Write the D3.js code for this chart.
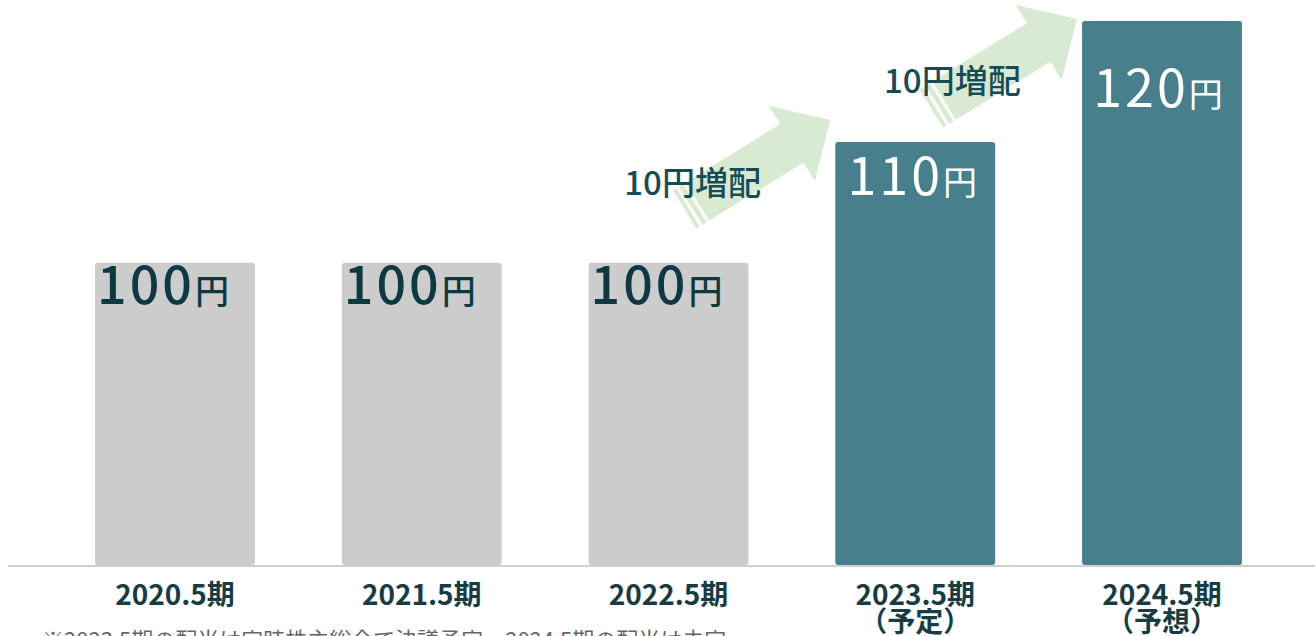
<!DOCTYPE html>
<html>
<head>
<meta charset="utf-8">
<script src="https://cdn.jsdelivr.net/npm/d3@7"></script>
<style>
  body { margin: 0; background: #fff; }
  svg { display: block; font-family: "Noto Sans CJK JP", "Noto Sans", sans-serif; }
</style>
</head>
<body>
<script>
// data
const periods = ["2020.5期", "2021.5期", "2022.5期", "2023.5期", "2024.5期"]
const periodNotes = ["", "", "", "（予定）", "（予想）"]
const dividends = [100, 100, 100, 110, 120]
const unit = "円"
const forecast = [false, false, false, true, true]
const increaseLabels = ["10円増配", "10円増配"]
const increaseTargets = [3, 4]
const footnote = "※2023.5期の配当は定時株主総会で決議予定、2024.5期の配当は未定"

const width = 1315, height = 636
const baseY = 565

const svg = d3.select("body").append("svg")
  .attr("width", width)
  .attr("height", height)

const x = d3.scaleBand()
  .domain(periods)
  .range([51.6, 1285.4])
  .paddingInner(0.352)
  .paddingOuter(0.176)

const y = d3.scaleLinear()
  .domain([75, 120])
  .range([baseY, 21])

// arrows (drawn first, labels go over them)
const arrowLen = 156, headLen = 45, headHalf = 44, shaftHalf = 22.5, angle = -31.5
// tip offset from the target bar's top-left, and label offset from tip
const arrowLayout = [
  { tipDx: -5, tipDy: -22, labelDx: -206, labelDy: 75 },
  { tipDx: -5, tipDy: -2, labelDx: -193, labelDy: 74 }
]

increaseTargets.forEach(function(t, i) {
  var lay = arrowLayout[i]
  var tipX = x(periods[t]) + lay.tipDx
  var tipY = y(dividends[t]) + lay.tipDy
  var g = svg.append("g")
    .attr("transform", "translate(" + tipX + "," + tipY + ") rotate(" + angle + ")")
  var pts = [
    [-arrowLen, -shaftHalf], [-headLen, -shaftHalf], [-headLen, -headHalf], [0, 0],
    [-headLen, headHalf], [-headLen, shaftHalf], [-arrowLen, shaftHalf]
  ]
  g.append("polygon")
    .attr("points", pts.map(function(p) { return p.join(",") }).join(" "))
    .attr("fill", "#d9ead3")
  // little stripes behind the tail
  ;[[-arrowLen - 8, 5], [-arrowLen - 15, 4]].forEach(function(s) {
    g.append("rect")
      .attr("x", s[0]).attr("y", -shaftHalf)
      .attr("width", s[1]).attr("height", shaftHalf * 2)
      .attr("fill", "#d9ead3")
  })
  svg.append("text")
    .attr("x", tipX + lay.labelDx)
    .attr("y", tipY + lay.labelDy)
    .attr("font-size", 33)
    .attr("font-weight", 500)
    .attr("fill", "#174c57")
    .text(increaseLabels[i])
})

// bars
svg.selectAll("rect.bar")
  .data(dividends)
  .enter()
  .append("rect")
    .attr("class", "bar")
    .attr("x", function(d, i) { return x(periods[i]) })
    .attr("y", function(d) { return y(d) })
    .attr("width", x.bandwidth())
    .attr("height", function(d) { return baseY - y(d) })
    .attr("rx", 3)
    .attr("fill", function(d, i) { return forecast[i] ? "#47808c" : "#cccccc" })

// baseline
svg.append("line")
  .attr("x1", 8).attr("x2", width)
  .attr("y1", baseY + 1).attr("y2", baseY + 1)
  .attr("stroke", "#cfcfcf")
  .attr("stroke-width", 2)

// value labels, offset below each bar top
const valueDy = [41, 41, 41, 53, 86]
const valueDx = [-12, -12, -12, -3, -4]
var vl = svg.selectAll("text.value")
  .data(dividends)
  .enter()
  .append("text")
    .attr("class", "value")
    .attr("x", function(d, i) { return x(periods[i]) + x.bandwidth() / 2 + valueDx[i] })
    .attr("y", function(d, i) { return y(d) + valueDy[i] })
    .attr("text-anchor", "middle")
    .attr("font-weight", function(d, i) { return forecast[i] ? 400 : 500 })
    .attr("fill", function(d, i) { return forecast[i] ? "#ffffff" : "#0e3940" })
vl.append("tspan").attr("font-size", 52).attr("letter-spacing", 3).text(function(d) { return d })
vl.append("tspan").attr("font-size", 34).text(unit)

// category labels
var cl = svg.selectAll("text.cat")
  .data(periods)
  .enter()
  .append("text")
    .attr("class", "cat")
    .attr("x", function(d) { return x(d) + x.bandwidth() / 2 })
    .attr("y", 605)
    .attr("text-anchor", "middle")
    .attr("font-size", 28)
    .attr("font-weight", "bold")
    .attr("fill", "#173c43")
cl.append("tspan").text(function(d) { return d })
cl.append("tspan")
  .attr("x", function(d) { return x(d) + x.bandwidth() / 2 })
  .attr("dy", 27)
  .text(function(d, i) { return periodNotes[i] })

// footnote (cut by the bottom edge)
svg.append("text")
  .attr("x", 42)
  .attr("y", 648)
  .attr("font-size", 22)
  .attr("fill", "#666")
  .text(footnote)
</script>
</body>
</html>
